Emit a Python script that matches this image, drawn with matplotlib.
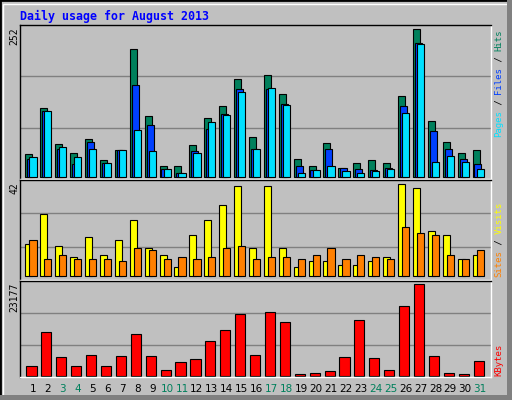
import matplotlib
matplotlib.use("Agg")
import matplotlib.pyplot as plt
from matplotlib.patches import Rectangle

days = list(range(1, 32))
hits = [38,117,55,40,64,29,46,218,103,18,18,54,100,120,166,67,173,141,31,18,57,14,23,28,23,137,252,95,60,40,45]
files = [30,112,47,21,59,23,45,156,89,13,6,43,81,107,149,47,149,124,18,11,47,14,13,11,14,120,228,78,47,31,21]
pages = [33,112,50,33,48,23,45,79,43,13,6,40,93,105,144,47,151,122,6,11,18,9,6,9,13,108,226,25,35,25,13]
visits = [15,29,14,9,18,10,17,26,13,10,4,19,26,33,42,13,42,13,4,7,7,5,5,7,9,43,41,21,19,8,10]
sites = [17,8,10,8,8,8,7,13,12,8,9,8,9,13,14,8,9,9,8,10,13,8,10,9,8,23,20,19,10,8,12]
kbytes = [2370,11000,4650,2370,5160,2370,4900,10490,4900,1350,3380,4150,8710,11500,15570,5160,16070,13540,340,590,1100,4650,14040,4400,1350,17600,23177,4900,590,340,3640]
weekend = [3,4,10,11,17,18,24,25,31]

W, H = 512, 400
BG = "#C0C0C0"
fig = plt.figure(figsize=(5.12, 4.0), dpi=100, facecolor=BG)
# borders
fig.patches.append(Rectangle((0, 0), 1, 1, transform=fig.transFigure, fill=False, ec="black", lw=2))
fig.patches.append(Rectangle((3/W, 3/H), 1-7/W, 1-7/H, transform=fig.transFigure, fill=False, ec="white", lw=1))
fig.patches.append(Rectangle((0, 0), 1, 5/H, transform=fig.transFigure, fc="#808080", ec="none"))
fig.patches.append(Rectangle((1-5/W, 0), 5/W, 1, transform=fig.transFigure, fc="#808080", ec="none"))

def mkax(top, bot):
    ax = fig.add_axes([20/W, (H-bot)/H, 471/W, (bot-top)/H])
    ax.set_facecolor(BG)
    ax.set_xlim(0.13, 31.73)
    ax.set_xticks([]); ax.set_yticks([])
    for s in ax.spines.values():
        s.set_color("black"); s.set_linewidth(1)
    ax.spines['right'].set_color("white"); ax.spines['bottom'].set_color("white")
    return ax

def grid(ax, lo, hi):
    ax.set_ylim(lo, hi)
    for f in (1/3, 2/3):
        ax.axhline(lo + f*(hi-lo), color="#808080", lw=1, zorder=0)

ek = dict(edgecolor="black", linewidth=0.8, align="edge")
ax1 = mkax(25, 179)
grid(ax1, -4, 259)
ax1.bar([d-0.51 for d in days], hits, width=0.47, color="#00805C", **ek)
ax1.bar([d-0.38 for d in days], files, width=0.47, color="#0040FF", **ek)
ax1.bar([d-0.24 for d in days], pages, width=0.48, color="#00E0FF", **ek)

ax2 = mkax(180, 280)
grid(ax2, -1.9, 44.9)
ax2.bar([d-0.51 for d in days], visits, width=0.47, color="#FFFF00", **ek)
ax2.bar([d-0.24 for d in days], sites, width=0.48, color="#FF8000", **ek)

ax3 = mkax(281, 377)
grid(ax3, -330, 24014)
ax3.bar([d-0.44 for d in days], kbytes, width=0.68, color="#FF0000", **ek)

mono = "DejaVu Sans Mono"
fig.text(20/W, 1-16/H, "Daily usage for August 2013", color="#0000FF", family=mono,
         fontweight="bold", fontsize=8.4, va="center", ha="left")

for y, s in ((27, "252"), (182, "42"), (283, "23177")):
    fig.text(14/W, 1-y/H, s, rotation=90, ha="center", va="top", fontsize=7, family=mono)

def vlabel(bottom, segs):
    cw = 5.4
    pos = bottom
    for s, c in segs:
        fig.text(499/W, 1-pos/H, s, rotation=90, ha="center", va="bottom", color=c,
                 family=mono, fontsize=6.5)
        pos -= cw*len(s)

vlabel(137, [("Pages", "#00E0FF"), (" / ", "black"), ("Files", "#0040FF"), (" / ", "black"), ("Hits", "#00805C")])
vlabel(277, [("Sites", "#FF8000"), (" / ", "black"), ("Visits", "#FFFF00")])
vlabel(376, [("KBytes", "#FF0000")])

for d in days:
    c = "#00805C" if d in weekend else "black"
    ax3.text(d, -0.12, str(d), transform=ax3.get_xaxis_transform(), ha="center", va="center",
             fontsize=7.5, color=c)

fig.savefig("out.png", dpi=100, facecolor=BG)
